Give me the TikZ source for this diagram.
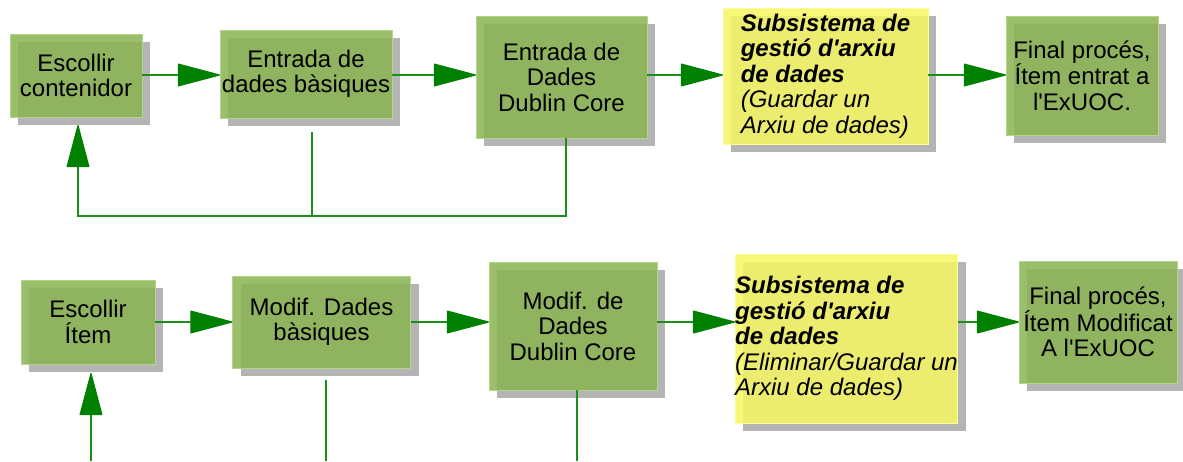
\documentclass[tikz,border=0pt]{standalone}
\usepackage{fontspec}
\setmainfont{Liberation Sans}
\usetikzlibrary{arrows.meta,shadows}

\definecolor{boxgreen}{RGB}{137,179,80}
\definecolor{boxedge}{RGB}{178,212,140}
\definecolor{boxyellow}{RGB}{246,246,99}
\definecolor{yedge}{RGB}{255,255,150}
\definecolor{shadowgrey}{RGB}{180,180,180}
\definecolor{flowgreen}{RGB}{0,128,0}
\definecolor{linegreen}{RGB}{25,145,25}

% straight apostrophe
\newcommand{\apos}{\textquotesingle}

\tikzset{
  stage/.style={rectangle, inner sep=0pt, outer sep=0pt, align=center,
    font=\fontsize{24}{25.5}\selectfont, line width=1pt,
    fill opacity=0.85, text opacity=1,
    general shadow={shadow xshift=8pt, shadow yshift=-8pt, fill=shadowgrey, fill opacity=1, draw=none}},
  greenbox/.style={stage, fill=boxgreen, draw=boxedge},
  yellowbox/.style={stage, fill=boxyellow, draw=yedge, align=left},
  wire/.style={draw=linegreen, line width=1.2pt},
  flow/.style={wire, -{Triangle[length=44pt, width=23pt, round, color=flowgreen]}}
}

\begin{document}
\begin{tikzpicture}[x=1pt, y=-1pt]
  \useasboundingbox (0,0) rectangle (1183,461);

  % guide levels
  \coordinate (r1) at (0,75);
  \coordinate (r2) at (0,322);
  \coordinate (fb) at (0,216);
  \coordinate (bot) at (0,461);

  % first row: new item
  \node[greenbox, minimum width=132pt, minimum height=83pt] (A) at (76,75.5) {Escollir\\contenidor};
  \node[greenbox, minimum width=172pt, minimum height=88pt] (B) at (306,74) {Entrada de\\dades bàsiques};
  \node[greenbox, minimum width=171pt, minimum height=122pt] (C) at (561.5,77) {Entrada de\\Dades\\Dublin Core};
  \node[yellowbox, minimum width=205pt, minimum height=136pt] (D) at (825.5,76)
    {\textbf{\textit{Subsistema de}}\\\textbf{\textit{gestió d\apos arxiu}}\\\textbf{\textit{de dades}}\\\textit{(Guardar un}\\\textit{Arxiu de dades)}};
  \node[greenbox, minimum width=152pt, minimum height=119pt] (E) at (1082,75.5) {Final procés,\\Ítem entrat a\\l\apos ExUOC.};

  % second row: modify item
  \node[greenbox, minimum width=134pt, minimum height=84pt] (F) at (88,322) {Escollir\\Ítem};
  \node[greenbox, minimum width=178pt, minimum height=92pt] (G) at (321.5,322) {Modif. Dades\\bàsiques};
  \node[greenbox, minimum width=168pt, minimum height=128pt] (H) at (573,326) {Modif. de\\Dades\\Dublin Core};
  \node[yellowbox, minimum width=221pt, minimum height=169pt] (I) at (846.5,338.5)
    {\textbf{\textit{Subsistema de}}\\\textbf{\textit{gestió d\apos arxiu}}\\\textbf{\textit{de dades}}\\\textit{(Eliminar/Guardar un}\\\textit{Arxiu de dades)}};
  \node[greenbox, minimum width=158pt, minimum height=122pt] (J) at (1098,322) {Final procés,\\Ítem Modificat\\A l\apos ExUOC};

  % first row flow
  \draw[flow] (A.east |- r1) -- (B.west |- r1);
  \draw[flow] (B.east |- r1) -- (C.west |- r1);
  \draw[flow] (C.east |- r1) -- (D.west |- r1);
  \draw[flow] (D.east |- r1) -- (E.west |- r1);

  % loop back to the container choice
  \draw[wire] ([xshift=6pt,yshift=-14pt]B.south) -- ([xshift=6pt]B.south |- fb);
  \draw[flow] ([xshift=4.5pt]C.south) -- ([xshift=4.5pt]C.south |- fb)
    -| ([xshift=2pt,yshift=-8pt]A.south);

  % second row flow
  \draw[flow] (F.east |- r2) -- (G.west |- r2);
  \draw[flow] (G.east |- r2) -- (H.west |- r2);
  \draw[flow] (H.east |- r2) -- (I.west |- r2);
  \draw[flow] (I.east |- r2) -- (J.west |- r2);

  % open ends leaving the bottom edge
  \draw[flow] ([xshift=3pt]F.south |- bot) -- ([xshift=3pt,yshift=-9pt]F.south);
  \draw[wire] ([xshift=4.5pt,yshift=-12pt]G.south) -- ([xshift=4.5pt]G.south |- bot);
  \draw[wire] ([xshift=4pt]H.south) -- ([xshift=4pt]H.south |- bot);
\end{tikzpicture}
\end{document}
